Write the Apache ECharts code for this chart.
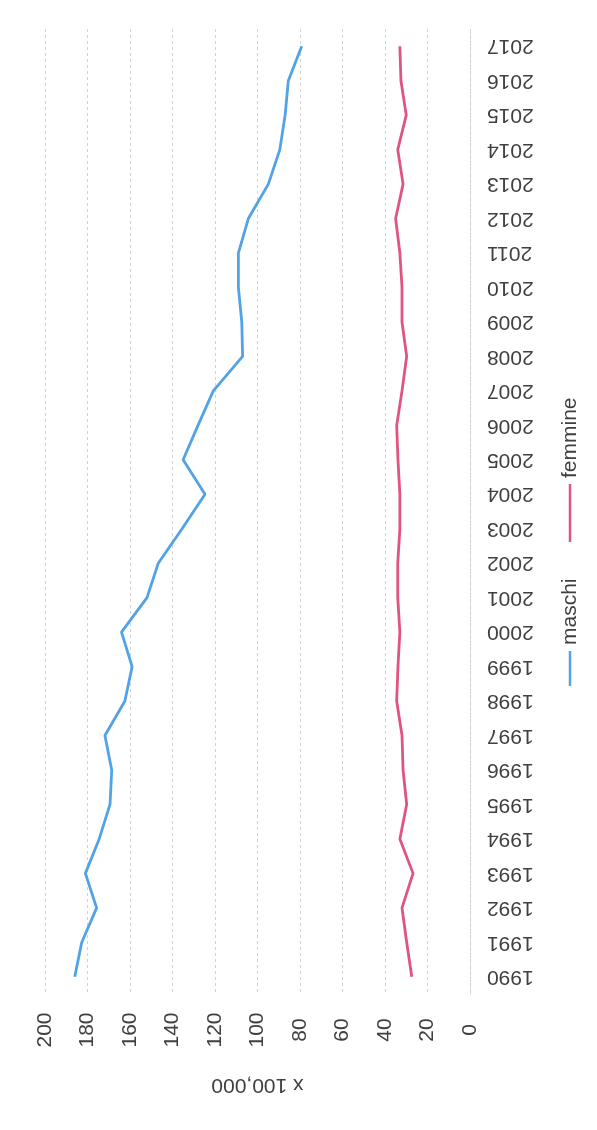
<!DOCTYPE html>
<html>
<head>
<meta charset="utf-8">
<script src="https://cdn.jsdelivr.net/npm/echarts@6/dist/echarts.min.js"></script>
<style>
html,body{margin:0;padding:0;background:#fff;}
#chart{width:597px;height:1130px;}
</style>
</head>
<body>
<div id="chart"></div>
<script>
const years = ['1990','1991','1992','1993','1994','1995','1996','1997','1998','1999','2000','2001','2002','2003','2004','2005','2006','2007','2008','2009','2010','2011','2012','2013','2014','2015','2016','2017'];
const maschi = [186,182.7,175.7,181,174.5,169.4,168.6,171.8,162.4,159,164,152,146.7,135.5,124.7,135,128,120.8,107,107.4,109,109,104.3,94.9,89.5,87,85.5,79.2];
const femmine = [27.4,29.8,32,26.8,33,29.8,31.5,32,34.5,33.9,33,34,34,33,33,33.9,34.5,32,29.8,32,32,33,35,31.5,34,30,32.5,33];
const seriesNames = ['maschi','femmine'];
const axisName = 'x 100,000';

const blue = '#52a2e6';
const pink = '#e0557f';
const textColor = '#404040';
const font = "'Liberation Sans', Arial, sans-serif";

const chart = echarts.init(document.getElementById('chart'));
chart.setOption({
  animation: false,
  backgroundColor: '#fff',
  grid: {left: 45, right: 127, top: 29, bottom: 136},
  xAxis: {
    type: 'value', min: 0, max: 200, interval: 20, inverse: true, position: 'bottom',
    axisLine: {show: false}, axisTick: {show: false},
    splitLine: {show: true, lineStyle: {color: '#d2d2d2', type: [3, 3], width: 1}},
    axisLabel: {rotate: 90, align: 'center', verticalAlign: 'middle', margin: 36,
      fontSize: 21, color: textColor, fontFamily: font},
    name: axisName, nameLocation: 'middle', nameRotate: 180, nameGap: 80,
    nameTextStyle: {fontSize: 21, color: textColor, fontFamily: font}
  },
  yAxis: {
    type: 'category', data: years, position: 'right', boundaryGap: true,
    axisLine: {show: true, lineStyle: {color: '#d6d6d6', type: [3, 3]}},
    axisTick: {show: false},
    splitLine: {show: false},
    axisLabel: {rotate: 180, align: 'right', verticalAlign: 'middle', margin: 17,
      fontSize: 21, color: textColor, fontFamily: font, interval: 0}
  },
  series: [
    {name: seriesNames[0], type: 'line', data: maschi, showSymbol: false,
      lineStyle: {color: blue, width: 2.8}, itemStyle: {color: blue}},
    {name: seriesNames[1], type: 'line', data: femmine, showSymbol: false,
      lineStyle: {color: pink, width: 2.8}, itemStyle: {color: pink}}
  ],
  graphic: [
    {type: 'line', shape: {x1: 570, y1: 686, x2: 570, y2: 651}, style: {stroke: blue, lineWidth: 2.5}},
    {type: 'text', x: 570, y: 645, rotation: Math.PI / 2,
      style: {text: seriesNames[0], fontSize: 21, fill: textColor, fontFamily: font,
        textAlign: 'left', textVerticalAlign: 'middle', align: 'left', verticalAlign: 'middle'}},
    {type: 'line', shape: {x1: 570, y1: 542, x2: 570, y2: 484}, style: {stroke: pink, lineWidth: 2.5}},
    {type: 'text', x: 570, y: 478, rotation: Math.PI / 2,
      style: {text: seriesNames[1], fontSize: 21, fill: textColor, fontFamily: font,
        textAlign: 'left', textVerticalAlign: 'middle', align: 'left', verticalAlign: 'middle'}}
  ]
});
</script>
</body>
</html>
